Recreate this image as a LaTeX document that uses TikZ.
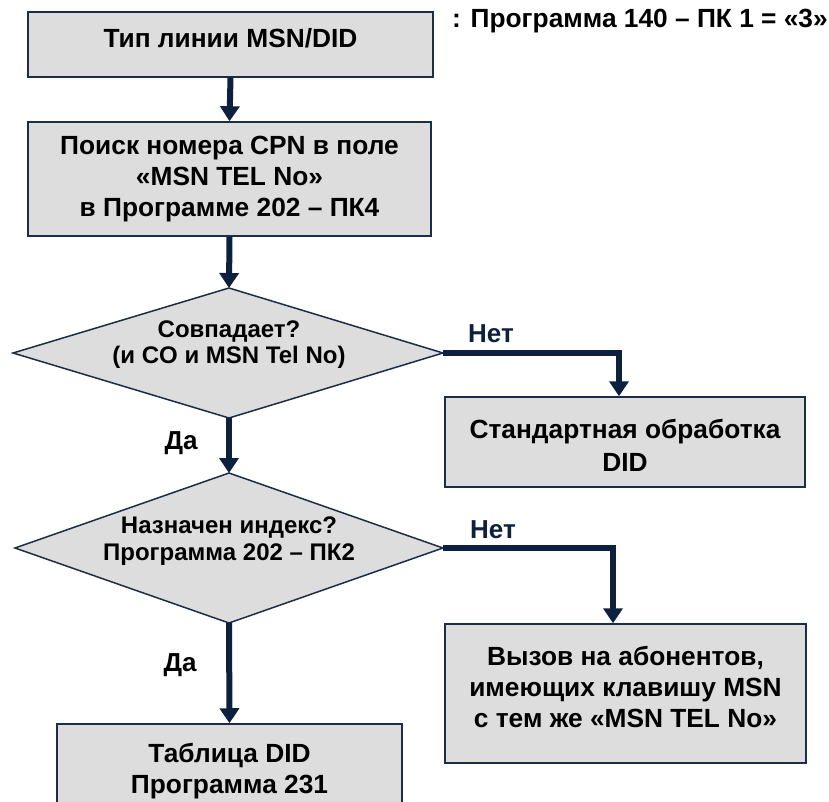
\documentclass[tikz,border=0pt]{standalone}
\usepackage{fontspec}
\setmainfont{Liberation Sans}
\usetikzlibrary{arrows.meta}
\definecolor{boxfill}{HTML}{DDDDDD}
\definecolor{edgec}{HTML}{1C2D47}
\definecolor{arrc}{HTML}{0D213F}
\begin{document}
\begin{tikzpicture}[x=1pt,y=-1pt,
  box/.style={draw=edgec,line width=1.5pt,fill=boxfill,inner sep=0pt},
  boxtext/.style={inner sep=0pt,align=center,font=\fontsize{26.3}{31}\selectfont\bfseries},
  diashape/.style={draw=edgec,line width=1.5pt,fill=boxfill},
  diatext/.style={inner sep=0pt,align=center,font=\fontsize{24}{#1}\selectfont\bfseries},
  conn/.style={draw=arrc,line width=6pt,-{Triangle[width=19pt,length=15pt]}},
  lab/.style={text=arrc,font=\fontsize{26}{30}\selectfont\bfseries,inner sep=0pt},
  yeslab/.style={text=black,font=\fontsize{26}{30}\selectfont\bfseries,inner sep=0pt}]
\useasboundingbox (0,0) rectangle (829,802);

% boxes
\node[box,minimum width=405pt,minimum height=65pt] (b1) at (230.5,44.5) {};
\node[boxtext] (b1t) at (230.5,38.5) {Тип линии MSN/DID};
\node[anchor=base west,inner sep=0pt,font=\fontsize{26.3}{30}\selectfont\bfseries] (hdr) at (452,28) {: Программа 140 – ПК 1 = «3»};

\node[box,minimum width=403pt,minimum height=114pt] (b2) at (229.5,179) {};
\node[boxtext] (b2t) at (229.5,179) {Поиск номера CPN в поле\\«MSN TEL No»\\в Программе 202 – ПК4};

\node[box,minimum width=360pt,minimum height=90pt] (b3) at (625,442) {};
\node[boxtext,font=\fontsize{26.3}{33}\selectfont\bfseries] (b3t) at (625,445.5) {Стандартная обработка\\DID};

\node[box,minimum width=361pt,minimum height=139pt] (b4) at (625.5,693.5) {};
\node[boxtext] (b4t) at (625.5,687) {Вызов на абонентов,\\имеющих клавишу MSN\\с тем же «MSN TEL No»};

\node[box,minimum width=345pt,minimum height=90pt] (b5) at (229.5,769) {};
\node[boxtext] (b5t) at (229.5,771.5) {Таблица DID\\Программа 231};

% decision 1
\coordinate (d1n) at (229,288);
\coordinate (d1e) at (443,353);
\coordinate (d1s) at (229,418);
\coordinate (d1w) at (13,353);
\draw[diashape] (d1n) -- (d1e) -- (d1s) -- (d1w) -- cycle;
\node[diatext=26] (d1) at (229,345) {Совпадает?\\(и CO и MSN Tel No)};

% decision 2
\coordinate (d2n) at (229,473);
\coordinate (d2e) at (443,548);
\coordinate (d2s) at (229,623);
\coordinate (d2w) at (15,548);
\draw[diashape] (d2n) -- (d2e) -- (d2s) -- (d2w) -- cycle;
\node[diatext=27] (d2) at (229,541) {Назначен индекс?\\Программа 202 – ПК2};

% labels
\node[lab,anchor=base west] (n1) at (468,342) {Нет};
\node[lab,anchor=base west] (n2) at (470,538) {Нет};
\node[yeslab] (y1) at (181,443) {Да};
\node[yeslab] (y2) at (180,665) {Да};

% connectors
\draw[conn] (b1.south) -- (b2.north);
\draw[conn] (b2.south) -- (d1n);
\draw[conn] (d1e) -| ([xshift=-6pt]b3.north);
\draw[conn] (d1s) -- (d2n);
\draw[conn] (d2e) -| ([xshift=-12.5pt]b4.north);
\draw[conn] (d2s) -- (b5.north);
\end{tikzpicture}
\end{document}
